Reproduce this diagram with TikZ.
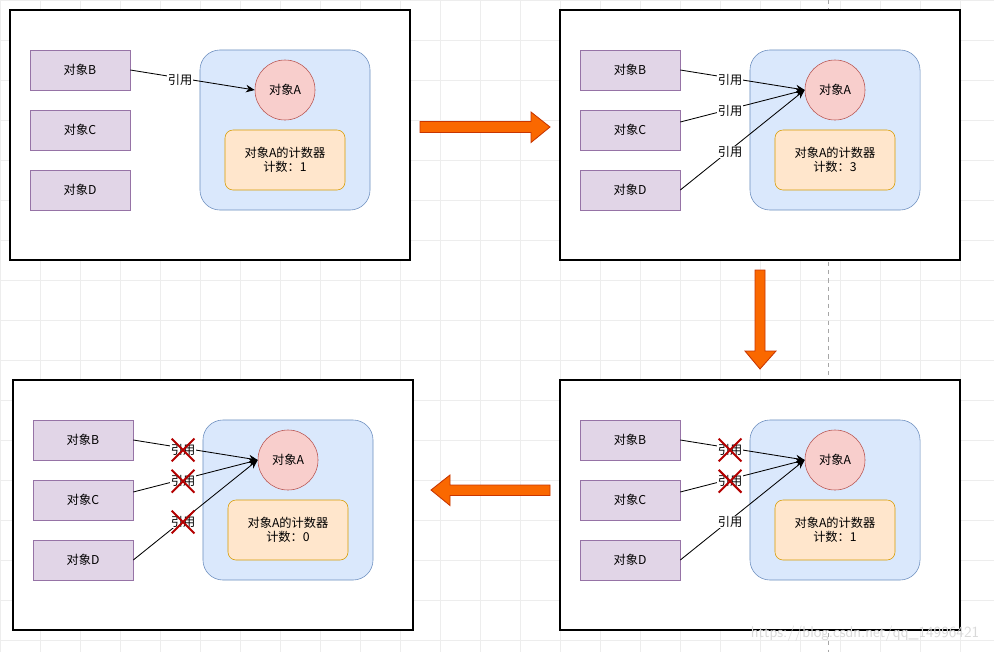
\documentclass[tikz,border=0pt]{standalone}
\usepackage{fontspec}
\setmainfont{Noto Sans CJK SC}
\usepackage{tikz}
\usetikzlibrary{arrows.meta, shapes.misc, calc}
\definecolor{obj-fill}{HTML}{E1D5E7}
\definecolor{obj-line}{HTML}{9673A6}
\definecolor{hold-fill}{HTML}{DAE8FC}
\definecolor{hold-line}{HTML}{6C8EBF}
\definecolor{tgt-fill}{HTML}{F8CECC}
\definecolor{tgt-line}{HTML}{B85450}
\definecolor{cnt-fill}{HTML}{FFE6CC}
\definecolor{cnt-line}{HTML}{D79B00}
\definecolor{go-fill}{HTML}{FA6800}
\definecolor{go-line}{HTML}{C73500}
\definecolor{cut-red}{HTML}{B40000}
\definecolor{grid-gray}{HTML}{EDEDED}

\begin{document}
\begin{tikzpicture}[
	x=0.025cm, y=-0.025cm,
	gridline/.style={draw=grid-gray, line width=0.5pt},
	guide/.style={draw=gray!70, line width=0.5pt, dash pattern=on 3pt off 3pt},
	frame/.style={draw=black, fill=white, line width=0.8pt},
	obj/.style={
		draw=obj-line, fill=obj-fill,
		minimum width=2.5cm, minimum height=1cm, inner sep=0pt,
		font=\fontsize{8.7}{10}\selectfont
	},
	holder/.style={
		draw=hold-line, fill=hold-fill, rounded corners=0.5cm,
		minimum width=4.25cm, minimum height=4cm
	},
	target/.style={
		circle, draw=tgt-line, fill=tgt-fill,
		minimum size=1.5cm, inner sep=0pt,
		font=\fontsize{8.7}{10}\selectfont
	},
	counter/.style={
		draw=cnt-line, fill=cnt-fill, rounded corners=0.2cm,
		minimum width=3cm, minimum height=1.5cm, align=center,
		font=\fontsize{8.7}{10}\selectfont
	},
	ref/.style={draw=black, line width=0.6pt, -{Stealth[length=2.2mm,width=1.9mm]}},
	lbl/.style={fill=white, inner sep=0.5pt, pos=0.4, yshift=-0.05cm, font=\fontsize{8.7}{10}\selectfont},
	xmark/.style={cross out, draw=cut-red, line width=1.4pt, minimum size=0.52cm, inner sep=0pt},
	bigarrow/.style={fill=go-fill, draw=go-line, line width=0.6pt}
	]
	
	\useasboundingbox (0,0) rectangle (994,652);
	\fill[white] (0,0) rectangle (994,652);
	
	% canvas
	\foreach \gx in {0,40,...,960} \draw[gridline] (\gx,0) -- (\gx,652);
	\foreach \gy in {0,40,...,640} \draw[gridline] (0,\gy) -- (994,\gy);
	\draw[guide] (828,0) -- (828,652);
	
	% step 1: B refers to A
	\draw[frame] (10,10) rectangle (410,260);
	\node[obj] (b1) at (80,70) {对象B};
	\node[obj] (c1) at (80,130) {对象C};
	\node[obj] (d1) at (80,190) {对象D};
	\node[holder] (h1) at (285,130) {};
	\node[target] (a1) at (285,90) {对象A};
	\node[counter] (n1) at (285,160) {对象A的计数器\\计数：1};
	\draw[ref] (b1.east) -- node[lbl] (r1b) {引用} (a1.west);
	
	% step 2: B, C, D refer to A
	\draw[frame] (560,10) rectangle (960,260);
	\node[obj] (b2) at (630,70) {对象B};
	\node[obj] (c2) at (630,130) {对象C};
	\node[obj] (d2) at (630,190) {对象D};
	\node[holder] (h2) at (835,130) {};
	\node[target] (a2) at (835,90) {对象A};
	\node[counter] (n2) at (835,160) {对象A的计数器\\计数：3};
	\draw[ref] (b2.east) -- node[lbl] (r2b) {引用} (a2.west);
	\draw[ref] ([yshift=2mm]c2.east) -- node[lbl] (r2c) {引用} (a2.west);
	\draw[ref] (d2.east) -- node[lbl] (r2d) {引用} (a2.west);
	
	% step 3: B and C dropped
	\draw[frame] (560,380) rectangle (960,630);
	\node[obj] (b3) at (630,440) {对象B};
	\node[obj] (c3) at (630,500) {对象C};
	\node[obj] (d3) at (630,560) {对象D};
	\node[holder] (h3) at (835,500) {};
	\node[target] (a3) at (835,460) {对象A};
	\node[counter] (n3) at (835,530) {对象A的计数器\\计数：1};
	\draw[ref] (b3.east) -- node[lbl] (r3b) {引用} (a3.west);
	\draw[ref] ([yshift=2mm]c3.east) -- node[lbl] (r3c) {引用} (a3.west);
	\draw[ref] (d3.east) -- node[lbl] (r3d) {引用} (a3.west);
	\node[xmark] (x3b) at (r3b) {};
	\node[xmark] (x3c) at (r3c) {};
	
	% step 4: all dropped
	\draw[frame] (13,380) rectangle (413,630);
	\node[obj] (b4) at (83,440) {对象B};
	\node[obj] (c4) at (83,500) {对象C};
	\node[obj] (d4) at (83,560) {对象D};
	\node[holder] (h4) at (288,500) {};
	\node[target] (a4) at (288,460) {对象A};
	\node[counter] (n4) at (288,530) {对象A的计数器\\计数：0};
	\draw[ref] (b4.east) -- node[lbl] (r4b) {引用} (a4.west);
	\draw[ref] ([yshift=2mm]c4.east) -- node[lbl] (r4c) {引用} (a4.west);
	\draw[ref] (d4.east) -- node[lbl] (r4d) {引用} (a4.west);
	\node[xmark] (x4b) at (r4b) {};
	\node[xmark] (x4c) at (r4c) {};
	\node[xmark] (x4d) at (r4d) {};
	
	% flow between steps
	\draw[bigarrow] (420,121.5) -- (531,121.5) -- (531,112) -- (550,127)
		-- (531,142.5) -- (531,132.5) -- (420,132.5) -- cycle;
	\draw[bigarrow] (755,270) -- (765,270) -- (765,351) -- (776,351)
		-- (760,369) -- (745,351) -- (755,351) -- cycle;
	\draw[bigarrow] (550,485) -- (450,485) -- (450,475) -- (431,490)
		-- (450,505.5) -- (450,495.5) -- (550,495.5) -- cycle;
	
	\node[text=gray!30, font=\sffamily\fontsize{11}{12}\selectfont] (mark) at (865,634) {https://blog.csdn.net/qq\_14996421};
	
\end{tikzpicture}
\end{document}
